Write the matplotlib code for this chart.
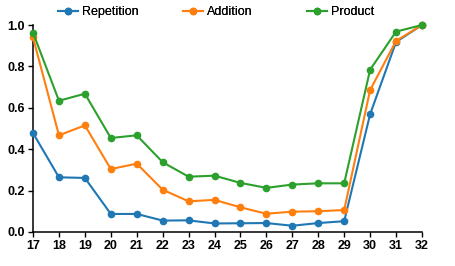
import matplotlib
matplotlib.use("Agg")
import matplotlib.pyplot as plt

# ─── Data ────────────────────────────────────────────────────────────────────
layers = [17, 18, 19, 20, 21, 22, 23, 24, 25, 26, 27, 28, 29, 30, 31, 32]

repetition = [0.478, 0.264, 0.261, 0.087, 0.087, 0.055, 0.056, 0.041,
              0.042, 0.043, 0.030, 0.043, 0.052, 0.569, 0.918, 1.0]
addition = [0.940, 0.467, 0.515, 0.304, 0.330, 0.204, 0.148, 0.155,
            0.119, 0.088, 0.098, 0.100, 0.106, 0.686, 0.923, 1.0]
product = [0.963, 0.634, 0.668, 0.454, 0.467, 0.337, 0.267, 0.272,
           0.237, 0.213, 0.229, 0.235, 0.235, 0.784, 0.968, 1.0]

SERIES = [("Repetition", repetition, "#1f77b4"),
          ("Addition", addition, "#ff7f0e"),
          ("Product", product, "#2ca02c")]

# legend entry x-positions (figure fraction) — evenly spaced like the original
LEGEND_X = [0.127, 0.401, 0.673]

plt.rcParams["font.family"] = ["Liberation Sans", "DejaVu Sans"]

fig = plt.figure(figsize=(4.56, 2.66), dpi=100)
ax = fig.add_axes([0.0724, 0.128, 0.853, 0.778])

handles = []
for name, vals, col in SERIES:
    h, = ax.plot(layers, vals, color=col, linewidth=1.5, marker="o",
                 markersize=4.5, label=name, clip_on=False, zorder=3)
    handles.append(h)

ax.set_xlim(17, 32)
ax.set_ylim(0, 1.0)
ax.set_xticks(layers)
ax.set_yticks([0.0, 0.2, 0.4, 0.6, 0.8, 1.0])
ax.set_yticklabels(["0.0", "0.2", "0.4", "0.6", "0.8", "1.0"])

ax.spines["top"].set_visible(False)
ax.spines["right"].set_visible(False)
for s in ("left", "bottom"):
    ax.spines[s].set_linewidth(1.1)
ax.tick_params(direction="out", length=3.5, width=1.0, labelsize=9, pad=2.5)
for lab in ax.get_xticklabels() + ax.get_yticklabels():
    lab.set_fontweight("bold")

# one legend per entry so the columns sit at an even pitch
for h, x in zip(handles, LEGEND_X):
    leg = fig.legend(handles=[h], loc="center left", bbox_to_anchor=(x, 0.955),
                     frameon=False, fontsize=9, handlelength=1.6,
                     handletextpad=0.3, borderpad=0, borderaxespad=0)
    fig.add_artist(leg)

fig.savefig("out.png", dpi=100)
